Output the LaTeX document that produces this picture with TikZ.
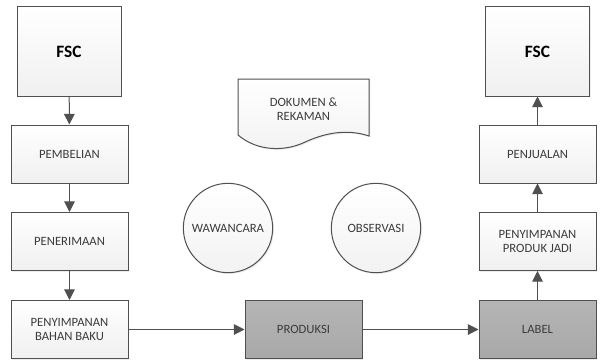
\documentclass[tikz,border=0pt]{standalone}
\usepackage{fontspec}
\setmainfont{Carlito}
\usepackage{tikz}
\usetikzlibrary{
	arrows.meta,
	positioning,
	shadows
}
\usepackage{xcolor}
\definecolor{linegray}{RGB}{80,80,80}
\definecolor{textgray}{RGB}{60,60,60}
\definecolor{darkbox}{RGB}{168,168,168}

\begin{document}
\begin{tikzpicture}[
		x=0.75pt, y=-0.75pt,
		>={Triangle[length=8pt,width=8pt]},
		box/.style={
			draw=linegray,
			line width=0.75pt,
			top color=white,
			bottom color=gray!12,
			minimum width=87.75pt,
			minimum height=43.5pt,
			inner sep=0pt,
			align=center,
			text=textgray,
			font=\fontsize{9.5}{10.5}\selectfont,
			drop shadow={opacity=0.15,shadow xshift=1pt,shadow yshift=-1pt}
		},
		darkbox/.style={
			box,
			top color=darkbox!85,
			bottom color=darkbox
		},
		fsc/.style={
			box,
			minimum width=78pt,
			minimum height=66.75pt,
			text=black,
			font=\fontsize{13}{15}\selectfont\bfseries
		},
		source/.style={
			circle,
			draw=linegray,
			line width=0.75pt,
			top color=white,
			bottom color=gray!10,
			minimum size=67pt,
			inner sep=0pt,
			text=textgray,
			font=\fontsize{9.5}{10.5}\selectfont,
			drop shadow={opacity=0.15,shadow xshift=1pt,shadow yshift=-1pt}
		},
		flow/.style={
			->,
			draw=linegray,
			line width=0.75pt
		}
		]
		
		\useasboundingbox (0,0) rectangle (602,360);
		
		% Bahan baku
		\node[fsc] (fscL) at (69,51.5) {FSC};
		\node[box] (beli) at (69.5,154) {PEMBELIAN};
		\node[box] (terima) at (69.5,241.5) {PENERIMAAN};
		\node[box] (simpan) at (69.5,329.5) {PENYIMPANAN\\BAHAN BAKU};
		
		% Produksi
		\node[darkbox] (produksi) at (303.5,329.5) {PRODUKSI};
		\node[darkbox] (label) at (537.5,329.5) {LABEL};
		
		% Produk jadi
		\node[box] (jadi) at (537.5,241.5) {PENYIMPANAN\\PRODUK JADI};
		\node[box] (jual) at (537.5,154) {PENJUALAN};
		\node[fsc] (fscR) at (537.5,51.5) {FSC};
		
		% Sumber data
		\path[draw=linegray,line width=0.75pt,top color=white,bottom color=gray!10,
			drop shadow={opacity=0.15,shadow xshift=1pt,shadow yshift=-1pt}]
			(238,79) -- (369,79) -- (369,136)
			.. controls (345,128) and (322,134) .. (303,143)
			.. controls (285,151) and (258,152) .. (238,135) -- cycle;
		\node[align=center,text=textgray,font=\fontsize{9.5}{10.5}\selectfont]
			(dok) at (303.5,109) {DOKUMEN \&\\REKAMAN};
		\node[source] (wawancara) at (228,228) {WAWANCARA};
		\node[source] (observasi) at (376,228) {OBSERVASI};
		
		\foreach \a/\b in {fscL/beli,beli/terima,terima/simpan,simpan/produksi,produksi/label,label/jadi,jadi/jual,jual/fscR}
		\draw[flow] (\a) -- (\b);
		
	\end{tikzpicture}
\end{document}
